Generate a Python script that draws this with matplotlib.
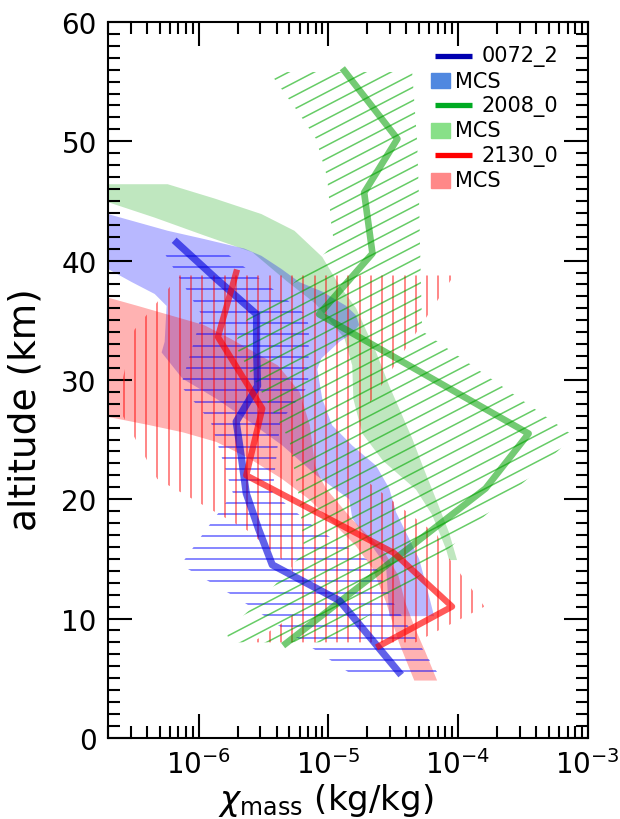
import numpy as np
import matplotlib
matplotlib.use("Agg")
import matplotlib.pyplot as plt
from matplotlib.patches import Polygon, Rectangle
from matplotlib.collections import LineCollection
from matplotlib.ticker import LogLocator, MultipleLocator

# retrieved profiles (altitude km, mass mixing ratio kg/kg)
blue_alt = [41.5, 38.5, 35.5, 32.5, 29.5, 26.5, 23.5, 20.5, 17.5, 14.5, 11.5, 8.5, 5.5]
blue_x = [6.8e-7, 1.36e-6, 2.8e-6, 2.8e-6, 2.85e-6, 1.95e-6, 2.14e-6, 2.33e-6, 2.9e-6, 3.7e-6, 1.22e-5, 2.07e-5, 3.5e-5]

red_alt = [39.0, 33.6, 27.6, 22.0, 15.5, 11.0, 7.7]
red_x = [1.95e-6, 1.41e-6, 3.1e-6, 2.33e-6, 3.2e-5, 9.0e-5, 2.47e-5]

green_alt = [55.9, 50.2, 45.7, 40.6, 35.5, 25.5, 20.9, 7.9]
green_x = [1.33e-5, 3.41e-5, 1.89e-5, 2.19e-5, 8.5e-6, 3.5e-4, 1.63e-4, 4.7e-6]

# retrieval uncertainty envelopes (hatched), listed top to bottom
blue_err_alt = [41.0, 35.5, 34.5, 29.5, 26.5, 20.5, 17.5, 14.5, 11.5, 5.5]
blue_err_lo = [5.2e-7, 1.05e-6, 1.0e-6, 7.3e-7, 1.24e-6, 1.84e-6, 1.15e-6, 7.3e-7, 2.14e-6, 1.43e-5]
blue_err_hi = [1.48e-6, 6.65e-6, 7.1e-6, 7.0e-6, 4.27e-6, 3.71e-6, 8.2e-6, 2.3e-5, 3.1e-5, 6.9e-5]

red_err_lo_alt = [38.75, 34.2, 28.5, 27.0, 21.7, 20.4, 17.4, 14.3, 11.0, 10.0, 8.0]
red_err_lo = [7.1e-7, 3.2e-7, 2.4e-7, 2.6e-7, 4.8e-7, 7.8e-7, 2.36e-6, 5.2e-6, 6.0e-6, 5.0e-6, 2.6e-6]
red_err_hi_alt = [38.75, 28.1, 24.5, 21.3, 17.0, 15.3, 11.0, 8.0]
red_err_hi = [9.3e-5, 2.1e-5, 1.8e-5, 2.1e-5, 6.9e-5, 8.2e-5, 1.6e-4, 4.7e-5]

green_err_lo_alt = [55.8, 52.3, 50.2, 47.0, 43.0, 41.4, 39.3, 36.5, 35.5, 33.0, 30.0, 25.0, 20.0, 15.6, 12.3, 8.9, 8.0]
green_err_lo = [3.52e-6, 5.98e-6, 8.04e-6, 9.8e-6, 1.055e-5, 1.11e-5, 7.14e-6, 3.71e-6, 2.47e-6, 1.89e-6, 2.7e-6, 5.0e-6, 5.98e-6, 6.54e-6, 3.52e-6, 1.64e-6, 1.73e-6]
green_err_hi_alt = [55.8, 50.0, 45.0, 41.0, 34.1, 25.3, 22.3, 18.4, 12.0, 8.0]
green_err_hi = [4.43e-5, 4.84e-5, 5.01e-5, 5.1e-5, 5.29e-5, 7.8e-4, 3.98e-4, 1.53e-4, 3.52e-5, 1.02e-5]

# MCS climatology ranges (shaded), listed top to bottom
blue_mcs_hi_alt = [44.3, 43.9, 42.5, 41.8, 41.0, 40.4, 39.3, 38.2, 37.4, 36.2, 35.4, 34.6, 33.9, 33.2, 31.8, 30.9, 28.4, 26.2, 24.5, 22.8, 20.9, 18.9, 17.2, 15.0, 12.5, 10.2]
blue_mcs_hi = [1.45e-7, 2.0e-7, 5.78e-7, 1.11e-6, 2.26e-6, 3.05e-6, 4.35e-6, 5.98e-6, 8.99e-6, 1.375e-5, 1.64e-5, 1.73e-5, 1.53e-5, 1.22e-5, 8.84e-6, 8.23e-6, 8.99e-6, 1.07e-5, 1.53e-5, 2.34e-5, 2.95e-5, 3.33e-5, 3.98e-5, 5.01e-5, 5.78e-5, 6.54e-5]
blue_mcs_lo_alt = [39.6, 39.3, 38.2, 37.2, 36.2, 33.2, 32.3, 30.1, 28.4, 26.5, 24.5, 22.0, 20.0, 18.4, 14.4, 10.2]
blue_mcs_lo = [1.45e-7, 2.0e-7, 3.05e-7, 4.59e-7, 5.67e-7, 5.48e-7, 5.19e-7, 7.53e-7, 1.38e-6, 2.47e-6, 4.43e-6, 8.08e-6, 1.45e-5, 1.53e-5, 2.79e-5, 2.95e-5]

green_mcs_hi_alt = [46.4, 46.4, 45.2, 43.9, 42.5, 40.3, 37.9, 36.0, 32.3, 29.5, 27.6, 25.1, 22.5, 20.0, 17.2, 14.9]
green_mcs_hi = [1.45e-7, 5.78e-7, 1.33e-6, 3.05e-6, 5.48e-6, 8.99e-6, 1.22e-5, 1.64e-5, 2.34e-5, 2.95e-5, 3.52e-5, 4.43e-5, 5.47e-5, 6.77e-5, 8.53e-5, 9.83e-5]
green_mcs_lo_alt = [45.1, 44.9, 43.6, 42.1, 40.7, 38.3, 36.4, 33.5, 31.2, 28.4, 25.5, 23.2, 20.8, 18.7, 15.8, 14.9]
green_mcs_lo = [1.45e-7, 2.0e-7, 4.59e-7, 1.11e-6, 2.6e-6, 4.75e-6, 7.94e-6, 1.33e-5, 1.53e-5, 1.56e-5, 1.83e-5, 2.65e-5, 4.75e-5, 6.31e-5, 8.09e-5, 8.53e-5]

red_mcs_hi_alt = [37.3, 36.9, 36.2, 34.6, 33.4, 31.2, 29.0, 26.2, 22.8, 22.0, 20.9, 18.4, 15.5, 13.6, 11.4, 9.1, 7.2, 4.8]
red_mcs_hi = [1.2e-7, 2.0e-7, 3.4e-7, 1.1e-6, 1.8e-6, 4.1e-6, 6.0e-6, 7.2e-6, 7.9e-6, 8.5e-6, 9.6e-6, 1.5e-5, 2.73e-5, 3.47e-5, 3.9e-5, 4.7e-5, 5.6e-5, 6.9e-5]
red_mcs_lo_alt = [27.1, 26.9, 26.2, 25.6, 24.8, 23.4, 21.7, 20.0, 18.4, 16.1, 14.2, 11.4, 8.0, 4.8]
red_mcs_lo = [1.2e-7, 2.0e-7, 4.2e-7, 7.6e-7, 1.37e-6, 2.47e-6, 4.4e-6, 7.1e-6, 1.0e-5, 1.63e-5, 2.19e-5, 2.78e-5, 3.5e-5, 4.6e-5]

labels = ["0072_2", "MCS", "2008_0", "MCS", "2130_0", "MCS"]


def envelope(lo_alt, lo_x, hi_alt, hi_x):
    # both edges run top -> bottom; walk down the low edge and back up the high one
    return list(zip(lo_x, lo_alt)) + list(zip(hi_x, hi_alt))[::-1]


def hatch(ax, fig, verts, angle, spacing, phase, color, alpha=0.6):
    """Parallel lines (spacing/phase in inches) clipped to a polygon in data coords."""
    patch = Polygon(verts, closed=True, facecolor="none", edgecolor="none",
                    transform=ax.transData)
    ax.add_patch(patch)
    w, h = fig.get_size_inches()
    L = 2 * (w + h)
    t = np.deg2rad(angle)
    d = np.array([np.cos(t), np.sin(t)])
    n = np.array([-np.sin(t), np.cos(t)])
    segs = []
    for k in np.arange(-200, 200):
        c = (phase + k * spacing) * n
        segs.append([c - L * d, c + L * d])
    lc = LineCollection(segs, colors=color, linewidths=1.1, alpha=alpha,
                        transform=fig.dpi_scale_trans)
    ax.add_collection(lc, autolim=False)
    lc.set_clip_path(patch)


fig = plt.figure(figsize=(6.2, 8.2), dpi=100)
ax = fig.add_axes([0.174, 0.099, 0.774, 0.873])

ax.fill(*zip(*envelope(green_mcs_lo_alt, green_mcs_lo, green_mcs_hi_alt, green_mcs_hi)),
        color="#00a000", alpha=0.25, lw=0)
ax.fill(*zip(*envelope(blue_mcs_lo_alt, blue_mcs_lo, blue_mcs_hi_alt, blue_mcs_hi)),
        color="blue", alpha=0.28, lw=0)
ax.fill(*zip(*envelope(red_mcs_lo_alt, red_mcs_lo, red_mcs_hi_alt, red_mcs_hi)),
        color="red", alpha=0.3, lw=0)

ax.set_xscale("log")
ax.set_xlim(2e-7, 1e-3)
ax.set_ylim(0, 60)

hatch(ax, fig, envelope(blue_err_alt, blue_err_lo, blue_err_alt, blue_err_hi),
      0, 0.1123, 5.633, "blue")
hatch(ax, fig, envelope(red_err_lo_alt, red_err_lo, red_err_hi_alt, red_err_hi),
      90, 0.1124, -2.36, "red")
hatch(ax, fig, envelope(green_err_lo_alt, green_err_lo, green_err_hi_alt, green_err_hi),
      27.5, 0.118, 6.0, "#00aa00")

ax.plot(green_x, green_alt, color="#00a000", lw=4.8, alpha=0.55)
ax.plot(blue_x, blue_alt, color="#0000dd", lw=5.2, alpha=0.62)
ax.plot(red_x, red_alt, color="red", lw=4.5, alpha=0.65)

# legend: line keys and narrower filled keys, laid out in axes fraction
key_colors = ["#0000b0", "#5088e0", "#00aa22", "#88e088", "red", "#ff8888"]
row0, drow = 0.953, 0.0348
for i, (lab, col) in enumerate(zip(labels, key_colors)):
    y = row0 - i * drow
    if i % 2 == 0:
        ax.plot([0.681, 0.758], [y, y], color=col, lw=3.8,
                transform=ax.transAxes, solid_capstyle="butt")
        ax.text(0.778, y, lab, transform=ax.transAxes, fontsize=15, va="center")
    else:
        ax.add_patch(Rectangle((0.674, y - 0.0105), 0.038, 0.021, color=col,
                               transform=ax.transAxes))
        ax.text(0.723, y, lab, transform=ax.transAxes, fontsize=15, va="center")

ax.yaxis.set_major_locator(MultipleLocator(10))
ax.yaxis.set_minor_locator(MultipleLocator(1))
ax.xaxis.set_major_locator(LogLocator(base=10, numticks=10))
ax.xaxis.set_minor_locator(LogLocator(base=10, subs=np.arange(2, 10), numticks=20))
ax.tick_params(which="both", direction="in", top=True, right=True, width=1.5)
ax.tick_params(which="major", length=17, labelsize=20, pad=8)
ax.tick_params(which="minor", length=8.5)
for s in ax.spines.values():
    s.set_linewidth(1.5)

ax.set_xlabel(r"$\chi_{\rm mass}$ (kg/kg)", fontsize=24.5)
ax.set_ylabel("altitude (km)", fontsize=27)
ax.xaxis.set_label_coords(0.454, -0.061)
ax.yaxis.set_label_coords(-0.135, 0.46)

fig.savefig("out.png", dpi=100)
